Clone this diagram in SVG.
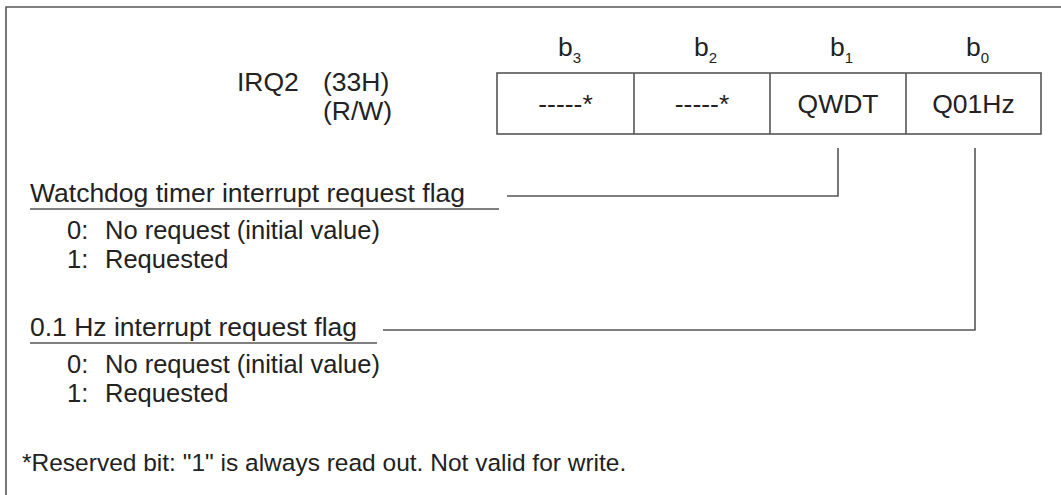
<svg xmlns="http://www.w3.org/2000/svg" width="1061" height="495" viewBox="0 0 1061 495">
<style>
text{font-family:"Liberation Sans",Arial,sans-serif;font-size:26.5px;fill:#222}
.sub{font-size:15px}
.ln{stroke:#555;stroke-width:1.6;fill:none}
.c{text-anchor:middle}
.note{font-size:24.5px}
.item{font-size:25.5px}
</style>
<rect width="1061" height="495" fill="#fff"/>
<path class="ln" d="M6,495 V7 H1061"/>
<g id="title">
<text x="237" y="91">IRQ2</text>
<text x="323" y="91">(33H)</text>
<text x="323" y="120">(R/W)</text>
</g>
<g id="bits">
<text x="558" y="56">b<tspan class="sub" dy="7">3</tspan></text>
<text x="694" y="56">b<tspan class="sub" dy="7">2</tspan></text>
<text x="830" y="56">b<tspan class="sub" dy="7">1</tspan></text>
<text x="966" y="56">b<tspan class="sub" dy="7">0</tspan></text>
</g>
<g id="register">
<rect class="ln" x="497" y="73" width="544" height="61"/>
<path class="ln" d="M634,73 V134 M770,73 V134 M906,73 V134"/>
<text class="c" x="565.5" y="113">-----*</text>
<text class="c" x="702" y="113">-----*</text>
<text class="c" x="838" y="113">QWDT</text>
<text class="c" x="973.5" y="113">Q01Hz</text>
</g>
<g id="connectors">
<path class="ln" d="M838,148 V196 H507"/>
<path class="ln" d="M975,148 V330 H383"/>
</g>
<g id="qwdt-desc">
<text x="30" y="202">Watchdog timer interrupt request flag</text>
<path class="ln" d="M30,209 H499"/>
<text class="item" x="67" y="239">0:</text><text class="item" x="105" y="239">No request (initial value)</text>
<text class="item" x="67" y="267.5">1:</text><text class="item" x="105" y="267.5">Requested</text>
</g>
<g id="q01hz-desc">
<text x="30" y="336">0.1 Hz interrupt request flag</text>
<path class="ln" d="M30,343 H377"/>
<text class="item" x="67" y="373">0:</text><text class="item" x="105" y="373">No request (initial value)</text>
<text class="item" x="67" y="401.5">1:</text><text class="item" x="105" y="401.5">Requested</text>
</g>
<g id="note">
<text class="note" x="22" y="471">*Reserved bit: "1" is always read out. Not valid for write.</text>
</g>
</svg>
